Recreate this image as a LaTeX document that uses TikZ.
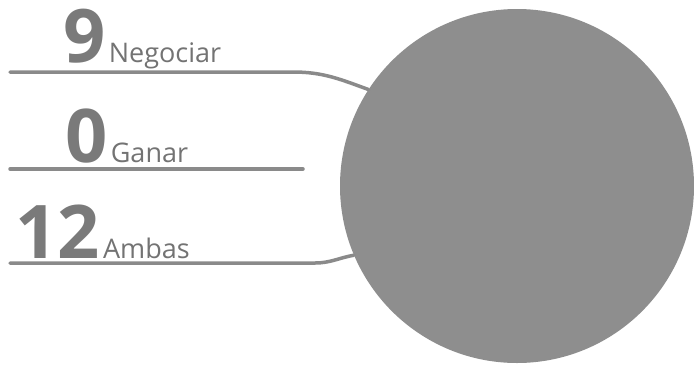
\documentclass[tikz,border=0pt]{standalone}
\usepackage{fontspec}
\setmainfont{Open Sans}
\usetikzlibrary{positioning,calc}
\definecolor{cGrey}{HTML}{8A8A8A}
\definecolor{cDisc}{HTML}{8E8E8E}
\definecolor{cNum}{HTML}{7A7A7A}
\definecolor{cLab}{HTML}{737373}

\begin{document}
\begin{tikzpicture}[x=1pt,y=-1pt,
      num/.style={anchor=base west,text=cNum,inner sep=0pt,
                  font=\bfseries\fontsize{74}{74}\selectfont},
      lab/.style={anchor=base west,text=cLab,inner sep=0pt,
                  font=\fontsize{27}{27}\selectfont},
      rule/.style={draw=cGrey,line width=3.5pt,line cap=round}]
    \useasboundingbox (0,0) rectangle (694,368);
    \node[circle,fill=cDisc,minimum size=354pt,inner sep=0pt] (disc) at (517,186) {};
    % first row
    \node[num] (n1) at (63,62) {9};
    \node[lab,right=3pt of n1.base east,anchor=base west] (l1) {Negociar};
    \coordinate (a1) at (10,72);
    \coordinate (b1) at (293,72);
    \draw[rule] (a1) -- (b1) to[out=0,in=160] (disc.147);
    % second row
    \node[num] (n2) at (65,162) {0};
    \node[lab,right=3pt of n2.base east,anchor=base west] (l2) {Ganar};
    \coordinate (a2) at (10,169);
    \coordinate (b2) at (303,169);
    \draw[rule] (a2) -- (b2);
    % third row
    \node[num] (n3) at (15,258) {12};
    \node[lab,right=3pt of n3.base east,anchor=base west] (l3) {Ambas};
    \coordinate (a3) at (10,263);
    \coordinate (b3) at (315,263);
    \draw[rule] (a3) -- (b3) to[out=0,in=190] (disc.203);
  \end{tikzpicture}
\end{document}
